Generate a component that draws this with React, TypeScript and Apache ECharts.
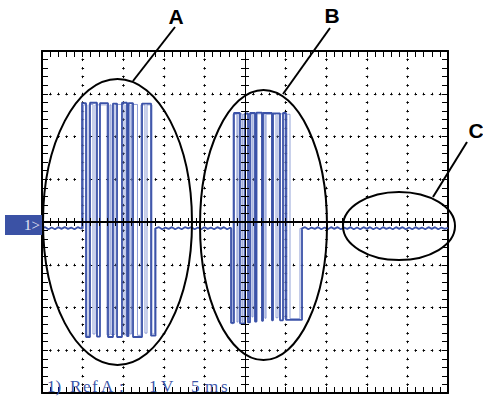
import React, { useEffect, useRef } from "react";
import * as echarts from "echarts";

// Oscilloscope: 5 ms/div (10 div), 1 V/div (8 div)
const TIME_MIN = 0;
const TIME_MAX = 50;
const TIME_STEP = 5;
const VOLT_MIN = -4;
const VOLT_MAX = 4;
const VOLT_STEP = 1;

// Baseline noise samples [time ms, volts]
const leadBaseline: [number, number][] = [
  [0, -0.14], [0.4, -0.12], [0.8, -0.17], [1.2, -0.13], [1.6, -0.17], [2.0, -0.12],
  [2.4, -0.16], [2.8, -0.12], [3.2, -0.16], [3.6, -0.13], [4.0, -0.17], [4.4, -0.12],
  [4.75, -0.15],
];

// Burst levels: each entry = [time of edge ms, level held after it]
const burstA: [number, number][] = [
  [4.93, 2.78], [5.42, -2.69], [5.91, 2.79], [6.77, -2.68], [7.14, 2.78], [8.13, -2.69],
  [8.74, 2.77], [9.24, -2.69], [9.85, 2.79], [10.47, -2.67], [10.65, 2.78], [11.21, -2.69],
  [12.32, 2.77], [13.43, -2.66], [13.98, -0.15],
];

const gapBaseline: [number, number][] = [
  [14.4, -0.12], [14.8, -0.17], [15.2, -0.13], [15.6, -0.16], [16.0, -0.12], [16.4, -0.17],
  [16.8, -0.13], [17.2, -0.17], [17.6, -0.12], [18.0, -0.15], [18.4, -0.12], [18.8, -0.17],
  [19.2, -0.13], [19.6, -0.17], [20.0, -0.12], [20.4, -0.16], [20.8, -0.13], [21.2, -0.17],
  [21.6, -0.12], [22.0, -0.16], [22.4, -0.12], [22.8, -0.17], [23.1, -0.14],
];

const burstB: [number, number][] = [
  [23.28, -2.36], [23.64, 2.55], [24.38, -2.37], [25.0, 2.54], [25.37, -2.35], [25.62, 2.55],
  [26.23, -2.33], [26.42, 2.56], [27.09, -2.31], [27.22, 2.55], [28.32, -2.3], [28.45, 2.54],
  [29.31, -2.3], [29.68, 2.55], [30.05, -2.29], [32.02, -0.15],
];

const tailBaseline: [number, number][] = [
  [32.4, -0.12], [32.8, -0.17], [33.2, -0.13], [33.6, -0.16], [34.0, -0.12], [34.4, -0.17],
  [34.8, -0.13], [35.2, -0.17], [35.6, -0.12], [36.0, -0.16], [36.4, -0.12], [36.8, -0.17],
  [37.2, -0.13], [37.6, -0.16], [38.0, -0.12], [38.4, -0.17], [38.8, -0.13], [39.2, -0.17],
  [39.6, -0.12], [40.0, -0.16], [40.4, -0.12], [40.8, -0.17], [41.2, -0.13], [41.6, -0.17],
  [42.0, -0.12], [42.4, -0.16], [42.8, -0.13], [43.2, -0.17], [43.6, -0.12], [44.0, -0.16],
  [44.4, -0.12], [44.8, -0.17], [45.2, -0.13], [45.6, -0.17], [46.0, -0.12], [46.4, -0.16],
  [46.8, -0.13], [47.2, -0.17], [47.6, -0.12], [48.0, -0.16], [48.4, -0.12], [48.8, -0.17],
  [49.2, -0.13], [49.6, -0.16], [50.0, -0.14],
];

// Persistence (earlier acquisition) bursts, same edge/level form
const echoA: [number, number][] = [
  [4.68, -0.15], [5.11, 2.74], [5.54, -2.65], [5.79, 2.75], [6.28, -2.62], [6.53, 2.74],
  [8.0, -2.64], [8.37, 2.74], [8.5, -2.63], [8.99, 2.75], [10.1, -2.64], [10.34, 2.74],
  [10.84, -2.62], [11.02, 2.75], [11.76, -2.65], [12.19, 2.74], [12.68, -2.6], [12.93, 2.74],
  [13.55, -2.62], [13.85, -0.15], [14.16, -0.15],
];

const echoB: [number, number][] = [
  [23.09, -0.15], [23.4, -2.38], [23.52, 2.52], [24.01, -2.34], [24.14, 2.53], [24.63, -2.33],
  [24.75, 2.52], [25.86, -2.22], [25.99, 2.53], [27.46, -2.25], [27.59, 2.52], [28.82, -2.24],
  [29.06, 2.53], [29.92, -2.27], [30.17, 2.52], [30.54, -2.26], [31.77, -0.15], [32.14, -0.15],
];

const footerChunks: [string, number][] = [
  ["1)", 47], ["R", 70], ["e", 83], ["f", 92], ["A", 101], [":", 119],
  ["1", 149], ["V", 161], ["5", 191], ["m", 205], ["s", 221],
];

// Expand an edge/level list into an explicit square-wave polyline
function toSquare(levels: [number, number][], prev?: number): [number, number][] {
  const out: [number, number][] = [];
  let last = prev;
  for (const [t, v] of levels) {
    if (last !== undefined) out.push([t, last]);
    out.push([t, v]);
    last = v;
  }
  return out;
}

const lastOf = (a: [number, number][]) => a[a.length - 1][1];
const mainTrace = [
  ...leadBaseline,
  ...toSquare(burstA, lastOf(leadBaseline)),
  ...gapBaseline,
  ...toSquare(burstB, lastOf(gapBaseline)),
  ...tailBaseline,
];
const echoTraceA = toSquare(echoA);
const echoTraceB = toSquare(echoB);

const GRID = { left: 42, top: 51, width: 406, height: 342 };
const BLACK = "#000";
const TRACE = "#3b52a8";
const TRACE_ECHO = "#7688cc";
const TEXT_BLUE = "#3d55a8";

function borderAxis(kind: "x" | "y", position: string, withGrid: boolean) {
  const isX = kind === "x";
  const minorPeriod = isX ? GRID.height / 40 : GRID.width / 50;
  const crossPeriod = isX ? GRID.height / 8 : GRID.width / 10;
  return {
    type: "value",
    gridIndex: 0,
    position,
    min: isX ? TIME_MIN : VOLT_MIN,
    max: isX ? TIME_MAX : VOLT_MAX,
    interval: isX ? TIME_STEP : VOLT_STEP,
    axisLine: { show: true, onZero: false, lineStyle: { color: BLACK, width: 2 } },
    axisTick: { show: true, inside: true, length: 6, lineStyle: { color: BLACK, width: 1 } },
    minorTick: { show: true, splitNumber: 5, length: 6, lineStyle: { color: BLACK, width: 1 } },
    axisLabel: { show: false },
    splitLine: withGrid
      ? { show: true, lineStyle: { color: BLACK, width: 1, type: [2.5, minorPeriod - 2.5], dashOffset: 1.25 } }
      : { show: false },
    minorSplitLine: withGrid
      ? { show: true, lineStyle: { color: BLACK, width: 1, type: [2.5, crossPeriod - 2.5], dashOffset: 1.25 } }
      : { show: false },
  };
}

function centerAxis(kind: "x" | "y", gridIndex: number, position: string) {
  const isX = kind === "x";
  return {
    type: "value",
    gridIndex,
    position,
    min: isX ? -5 : -4,
    max: isX ? 5 : 4,
    interval: 1,
    z: 4,
    axisLine: { show: true, onZero: true, lineStyle: { color: BLACK, width: isX ? 2 : 1 } },
    axisTick: { show: true, inside: false, length: 4, lineStyle: { color: BLACK, width: 1 } },
    minorTick: { show: true, splitNumber: 5, length: 4, lineStyle: { color: BLACK, width: 1 } },
    axisLabel: { show: false },
    splitLine: { show: false },
    minorSplitLine: { show: false },
  };
}

const ellipseStyle = { fill: "none", stroke: BLACK, lineWidth: 2 };
const calloutFont = 'bold 21px "Liberation Sans", Arial, sans-serif';

const option: any = {
  animation: false,
  backgroundColor: "#fff",
  grid: [
    { ...GRID, show: false },
    { ...GRID, show: false },
    { ...GRID, show: false },
  ],
  xAxis: [
    borderAxis("x", "bottom", true),
    borderAxis("x", "top", false),
    centerAxis("x", 1, "bottom"),
    centerAxis("x", 2, "top"),
  ],
  yAxis: [
    borderAxis("y", "left", true),
    borderAxis("y", "right", false),
    centerAxis("y", 1, "left"),
    centerAxis("y", 2, "right"),
  ],
  series: [
    {
      type: "line", name: "echo A", xAxisIndex: 0, yAxisIndex: 0, data: echoTraceA,
      symbol: "none", lineStyle: { color: TRACE_ECHO, width: 1, opacity: 0.8 }, z: 2,
    },
    {
      type: "line", name: "echo B", xAxisIndex: 0, yAxisIndex: 0, data: echoTraceB,
      symbol: "none", lineStyle: { color: TRACE_ECHO, width: 1, opacity: 0.8 }, z: 2,
    },
    {
      type: "line", name: "Ref A", xAxisIndex: 0, yAxisIndex: 0, data: mainTrace,
      symbol: "none", lineStyle: { color: TRACE, width: 1.8 }, z: 3,
    },
  ],
  graphic: [
    { type: "rect", z: 10, shape: { x: 5, y: 215, width: 37, height: 20 }, style: { fill: "#3b52a5" } },
    {
      type: "text", z: 11, x: 40, y: 225,
      style: {
        text: "1>", font: '15px "Liberation Serif", serif', fill: "#e4e7f5",
        align: "right", verticalAlign: "middle", textAlign: "right", textVerticalAlign: "middle",
      },
    },
    { type: "ellipse", z: 10, shape: { cx: 117.5, cy: 222, rx: 74.5, ry: 143 }, style: ellipseStyle },
    { type: "ellipse", z: 10, shape: { cx: 263.5, cy: 225, rx: 63.5, ry: 135 }, style: ellipseStyle },
    { type: "ellipse", z: 10, shape: { cx: 399, cy: 226, rx: 56, ry: 34 }, style: ellipseStyle },
    { type: "line", z: 10, shape: { x1: 175, y1: 27, x2: 133, y2: 81 }, style: { stroke: BLACK, lineWidth: 2 } },
    { type: "line", z: 10, shape: { x1: 330, y1: 28, x2: 283, y2: 94 }, style: { stroke: BLACK, lineWidth: 2 } },
    { type: "line", z: 10, shape: { x1: 467, y1: 142, x2: 433, y2: 197 }, style: { stroke: BLACK, lineWidth: 2 } },
    ...[
      ["A", 176, 16],
      ["B", 332, 15],
      ["C", 476, 130],
    ].map(([t, x, y]) => ({
      type: "text", z: 10, x, y,
      style: {
        text: t, font: calloutFont, fill: BLACK,
        align: "center", verticalAlign: "middle", textAlign: "center", textVerticalAlign: "middle",
      },
    })),
    ...footerChunks.map(([t, x]) => ({
      type: "text", z: 10, x, y: 386,
      style: {
        text: t, font: '17px "Liberation Serif", serif', fill: TEXT_BLUE,
        align: "left", verticalAlign: "middle", textAlign: "left", textVerticalAlign: "middle",
      },
    })),
  ],
};

export default function App() {
  const ref = useRef<HTMLDivElement>(null);
  useEffect(() => {
    const chart = echarts.init(ref.current!, null, { renderer: "svg" });
    chart.setOption(option);
    return () => chart.dispose();
  }, []);
  return (
    <div
      ref={ref}
      style={{ position: "absolute", left: 0, top: 0, width: 483, height: 396, background: "#fff" }}
    />
  );
}
